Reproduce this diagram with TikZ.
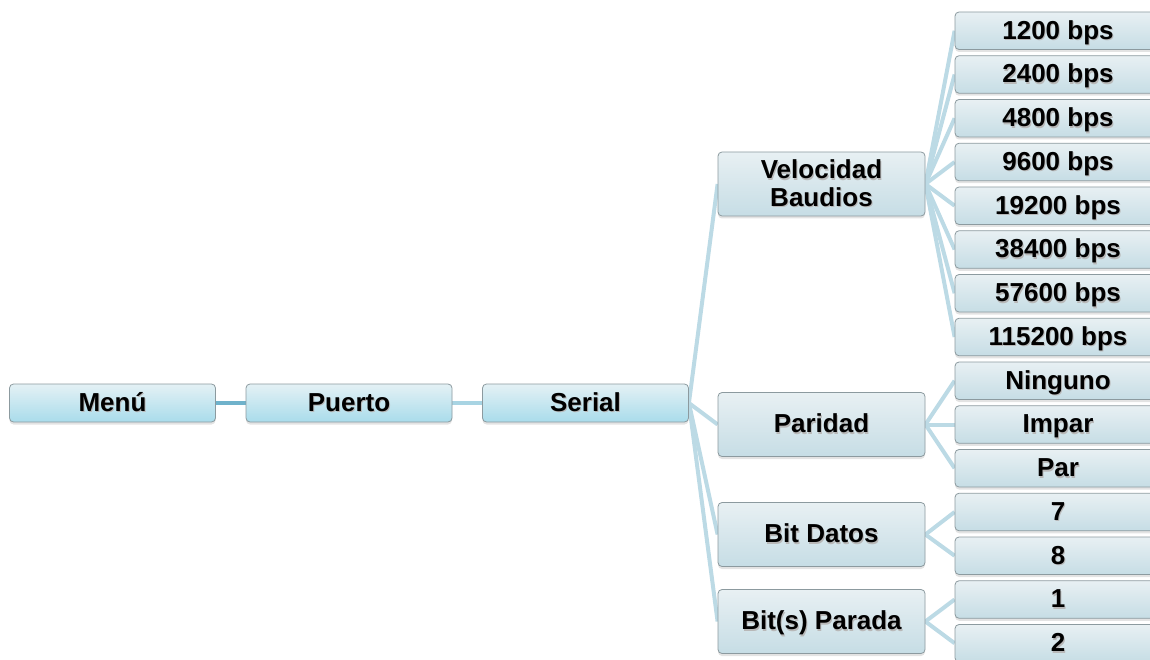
\documentclass[tikz,border=0pt]{standalone}
\usepackage{fontspec}
\setmainfont{Liberation Sans}
\usetikzlibrary{shadows,backgrounds}
\definecolor{topA}{HTML}{E4F1F5}
\definecolor{botA}{HTML}{A9DCEB}
\definecolor{topB}{HTML}{E8F0F3}
\definecolor{botB}{HTML}{C6DDE5}
\definecolor{edgeA}{HTML}{6FB2CB}
\definecolor{edgeB}{HTML}{A8D4E3}
\definecolor{edgeC}{HTML}{BCDAE5}
\definecolor{bord}{HTML}{8C9A9F}
\newcommand\shtx[1]{\leavevmode\rlap{\hspace{1pt}\raisebox{-1.6pt}{\color{black!28}#1}}#1}
\begin{document}
\begin{tikzpicture}[x=1pt,y=-1pt,
 box/.style={draw=bord,line width=0.8pt,rounded corners=4pt,inner sep=0pt,align=center,
   font=\bfseries\fontsize{26}{27.7}\selectfont,
   drop shadow={opacity=0.22,shadow xshift=0pt,shadow yshift=-2.5pt}},
 oneline/.style={text height=18.6pt,text depth=2pt},
 lvA/.style={box,oneline,top color=topA,bottom color=botA,minimum width=206pt,minimum height=38pt},
 lvB/.style={box,top color=topB,bottom color=botB,minimum width=207pt,minimum height=64pt},
 lvC/.style={box,oneline,top color=topB,bottom color=botB,minimum width=206pt,minimum height=37.5pt},
 link/.style={line width=4pt,draw=edgeC}]
\useasboundingbox (0,0) rectangle (1150,660);
\clip (0,0) rectangle (1150,660);
% level 0
\node[lvA] (menu) at (112.5,403) {\shtx{Menú}};
\node[lvA] (puerto) at (349,403) {\shtx{Puerto}};
\node[lvA] (serial) at (585.5,403) {\shtx{Serial}};
% level 1
\node[lvB] (vel) at (821.5,184) {\shtx{Velocidad}\\\shtx{Baudios}};
\node[lvB,oneline] (par) at (821.5,424.5) {\shtx{Paridad}};
\node[lvB,oneline] (dat) at (821.5,534.5) {\shtx{Bit Datos}};
\node[lvB,oneline] (stp) at (821.5,621.5) {\shtx{Bit(s) Parada}};
% level 2
\node[lvC] (b1) at (1058,30.75) {\shtx{1200 bps}};
\node[lvC] (b2) at (1058,74.5) {\shtx{2400 bps}};
\node[lvC] (b3) at (1058,118.25) {\shtx{4800 bps}};
\node[lvC] (b4) at (1058,162) {\shtx{9600 bps}};
\node[lvC] (b5) at (1058,205.75) {\shtx{19200 bps}};
\node[lvC] (b6) at (1058,249.5) {\shtx{38400 bps}};
\node[lvC] (b7) at (1058,293.25) {\shtx{57600 bps}};
\node[lvC] (b8) at (1058,337) {\shtx{115200 bps}};
\node[lvC] (p1) at (1058,380.75) {\shtx{Ninguno}};
\node[lvC] (p2) at (1058,424.5) {\shtx{Impar}};
\node[lvC] (p3) at (1058,468.25) {\shtx{Par}};
\node[lvC] (d1) at (1058,512) {\shtx{7}};
\node[lvC] (d2) at (1058,555.75) {\shtx{8}};
\node[lvC] (s1) at (1058,599.5) {\shtx{1}};
\node[lvC] (s2) at (1058,643.25) {\shtx{2}};
\begin{scope}[on background layer]
\draw[line width=4.5pt,edgeA] (menu.east) -- (puerto.west);
\draw[line width=4.5pt,edgeB] (puerto.east) -- (serial.west);
\foreach \t in {vel,par,dat,stp} \draw[link] (serial.east) -- (\t.west);
\foreach \t in {b1,b2,b3,b4,b5,b6,b7,b8} \draw[link] (vel.east) -- (\t.west);
\foreach \t in {p1,p2,p3} \draw[link] (par.east) -- (\t.west);
\foreach \t in {d1,d2} \draw[link] (dat.east) -- (\t.west);
\foreach \t in {s1,s2} \draw[link] (stp.east) -- (\t.west);
\end{scope}
\end{tikzpicture}
\end{document}
